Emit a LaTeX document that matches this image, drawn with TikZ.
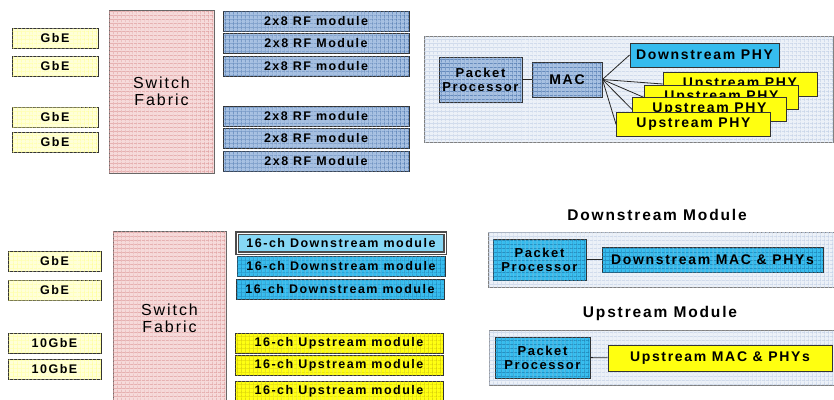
\documentclass[tikz,border=0pt]{standalone}
\usepackage{fontspec}
\setmainfont{Liberation Sans}[LetterSpace=12]
\usepackage{tikz}
\usetikzlibrary{patterns.meta}
\definecolor{gbeFill}{HTML}{FFFFD8}
\definecolor{fabricFill}{HTML}{F6DADA}
\definecolor{fabricGrid}{HTML}{DE9A9A}
\definecolor{rfFill}{HTML}{A6C0E2}
\definecolor{rfGrid}{HTML}{4470AA}
\definecolor{dsFill}{HTML}{36BCEE}
\definecolor{dsGrid}{HTML}{167CB0}
\definecolor{usFill}{HTML}{FFFF10}
\definecolor{usGrid}{HTML}{CCC000}
\definecolor{panelFill}{HTML}{ECF1F8}
\definecolor{panelGrid}{HTML}{C2D0E6}
\tikzset{
	meshed/.style={
		postaction={pattern color=#1, pattern={Lines[angle=0,distance=4pt,line width=.4pt]}},
		postaction={pattern color=#1, pattern={Lines[angle=90,distance=4pt,line width=.4pt]}}
	},
	every box/.style={
		rectangle,
		draw=black!80,
		line width=.8pt,
		inner sep=0pt,
		font=\fontsize{12.5}{13}\selectfont\bfseries
	},
	gbeBox/.style={every box, fill=gbeFill, meshed=yellow!40!gbeFill, minimum width=#1, minimum height=20pt},
	fabricBox/.style={every box, fill=fabricFill, meshed=fabricGrid, draw=black!60, align=center,
		font=\fontsize{16}{17}\selectfont},
	rfModule/.style={every box, fill=rfFill, meshed=rfGrid, minimum width=186pt, minimum height=20pt},
	dsModule/.style={every box, fill=dsFill, meshed=dsGrid, minimum width=208pt, minimum height=20pt},
	dsModuleLit/.style={every box, fill=dsFill!60!white, draw=black!70, line width=1.6pt,
		double=white, double distance=.6pt, minimum width=208pt, minimum height=20pt},
	usModule/.style={every box, fill=usFill, meshed=usGrid, minimum width=208pt, minimum height=20pt},
	panelBox/.style={every box, draw=black!50, fill=panelFill, meshed=panelGrid},
	procBox/.style={every box, align=center, font=\fontsize{13}{14}\selectfont\bfseries},
	phyBox/.style={every box, font=\fontsize{14}{15}\selectfont\bfseries},
	caption/.style={font=\fontsize{15.5}{16}\selectfont\bfseries, inner sep=0pt}
}
\begin{document}
\begin{tikzpicture}[x=1pt,y=-1pt]
\useasboundingbox (0,0) rectangle (834,399);
\tikzset{EdgeStyle/.style={draw=black!85, line width=.8pt}}

\node[gbeBox=86pt] (gbeA) at (55,38) {GbE};
\node[gbeBox=86pt] (gbeB) at (55,66.5) {GbE};
\node[gbeBox=86pt] (gbeC) at (55,117) {GbE};
\node[gbeBox=86pt] (gbeD) at (55,142.5) {GbE};
\node[fabricBox, minimum width=105pt, minimum height=163pt] (fabricTop) at (161.5,91.5) {Switch\\Fabric};
\node[rfModule] (rfA) at (316,21.5) {2x8 RF module};
\node[rfModule] (rfB) at (316,43) {2x8 RF Module};
\node[rfModule] (rfC) at (316,66) {2x8 RF module};
\node[rfModule] (rfD) at (316,116.5) {2x8 RF module};
\node[rfModule] (rfE) at (316,138) {2x8 RF module};
\node[rfModule] (rfF) at (316,161) {2x8 RF Module};

\node[panelBox, minimum width=409pt, minimum height=106pt] (panelTop) at (628.5,89) {};
\node[procBox, fill=rfFill, meshed=rfGrid, minimum width=83pt, minimum height=45pt] (procTop) at (480.5,79.5) {Packet\\Processor};
\node[phyBox, fill=rfFill, meshed=rfGrid, minimum width=70pt, minimum height=35pt] (mac) at (567,79.5) {MAC};
\node[phyBox, fill=dsFill, minimum width=149pt, minimum height=24pt] (dsPhy) at (704.5,55) {Downstream PHY};
\node[phyBox, fill=usFill, minimum width=154pt, minimum height=24pt] (usPhyA) at (740,84) {Upstream PHY};
\node[phyBox, fill=usFill, minimum width=154pt, minimum height=24pt] (usPhyB) at (721.5,97.5) {Upstream PHY};
\node[phyBox, fill=usFill, minimum width=154pt, minimum height=24pt] (usPhyC) at (709.5,109.5) {Upstream PHY};
\node[phyBox, fill=usFill, minimum width=154pt, minimum height=24pt] (usPhyD) at (693.5,124.5) {Upstream PHY};

\draw[EdgeStyle] (procTop) -- (mac);
\draw[EdgeStyle] (mac.east) -- (dsPhy.west);
\draw[EdgeStyle] (mac.east) -- (usPhyA.west);
\draw[EdgeStyle] (mac.east) -- (usPhyB.west);
\draw[EdgeStyle] (mac.east) -- (usPhyC.west);
\draw[EdgeStyle] (mac.east) -- (usPhyD.west);

\node[gbeBox=93pt] (gbeE) at (54.5,261) {GbE};
\node[gbeBox=93pt] (gbeF) at (54.5,290.5) {GbE};
\node[gbeBox=93pt] (tenGbeA) at (54.5,343.5) {10GbE};
\node[gbeBox=93pt] (tenGbeB) at (54.5,369.5) {10GbE};
\node[fabricBox, minimum width=113pt, minimum height=174pt] (fabricBottom) at (169.5,318) {Switch\\Fabric};
\node[dsModuleLit] (dsModA) at (341,243) {16-ch Downstream module};
\node[dsModule] (dsModB) at (341,266.5) {16-ch Downstream module};
\node[dsModule] (dsModC) at (340,289.5) {16-ch Downstream module};
\node[usModule] (usModA) at (339,343) {16-ch Upstream module};
\node[usModule] (usModB) at (339,365.5) {16-ch Upstream module};
\node[usModule] (usModC) at (339,391) {16-ch Upstream module};

\node[caption] (dsTitle) at (657,215) {Downstream Module};
\node[panelBox, minimum width=352pt, minimum height=55pt] (dsPanel) at (664,259.5) {};
\node[procBox, fill=dsFill, meshed=dsGrid, minimum width=93pt, minimum height=41pt] (dsProc) at (539.5,259.5) {Packet\\Processor};
\node[phyBox, fill=dsFill, meshed=dsGrid, minimum width=221pt, minimum height=25pt] (dsMacPhy) at (712.5,259.5) {Downstream MAC \& PHYs};
\draw[EdgeStyle] (dsProc) -- (dsMacPhy);

\node[caption] (usTitle) at (660,313) {Upstream Module};
\node[panelBox, minimum width=351pt, minimum height=55pt] (usPanel) at (664.5,357.5) {};
\node[procBox, fill=dsFill, meshed=dsGrid, minimum width=95pt, minimum height=41pt] (usProc) at (542.5,357.5) {Packet\\Processor};
\node[phyBox, fill=usFill, minimum width=224pt, minimum height=26pt] (usMacPhy) at (720,358) {Upstream MAC \& PHYs};
\draw[EdgeStyle] (usProc) -- (usMacPhy);
\end{tikzpicture}
\end{document}
